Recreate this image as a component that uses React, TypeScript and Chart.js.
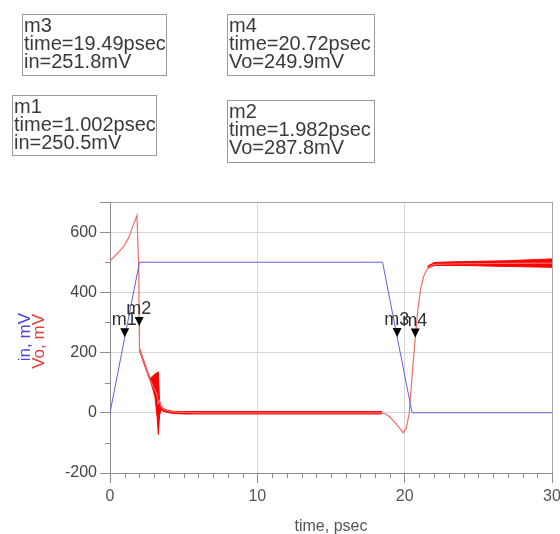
import { useEffect, useRef } from "react";
import { Chart, registerables } from "chart.js";

Chart.register(...registerables);

const FONT = "'Liberation Sans', Arial, Helvetica, sans-serif";

// Input stimulus "in" (mV) against time (psec)
const inTime = [0, 1.002, 2, 18.5, 19.49, 20.5, 30];
const inValue = [0, 250.5, 500, 500, 251.8, 0, 0];

// Output "Vo" (mV) against time (psec), centre of the trace
const voTime = [
  0, 0.2, 0.4, 0.7, 1.0, 1.3, 1.55, 1.83, 1.95, 1.982, 2.0, 2.3, 2.6, 2.75, 3.0, 3.2, 3.26, 3.35, 3.5,
  3.7, 4.0, 4.5, 6, 10, 14, 18.4, 18.7, 19.0, 19.3, 19.6, 19.9, 20.1, 20.3, 20.5, 20.72, 20.9, 21.1,
  21.3, 21.6, 22, 24, 27, 30,
];
const voValue = [
  505, 514, 524, 540, 557, 585, 620, 655, 480, 287.8, 210, 168, 124, 106, 80, 60, 30, 40, 18, 10, 5,
  2, 0, 0, 0, 0, -4, -14, -30, -48, -66, -52, -5, 120, 249.9, 345, 415, 455, 483, 493, 495, 496, 497,
];

// Vo ringing envelope after the rising edge and along the low level
const ringTime = [2.0, 2.3, 2.6, 2.72, 2.9, 3.05, 3.2, 3.28, 3.36, 3.45, 3.6, 3.9, 4.3, 5, 10, 15, 18.45];
const ringHigh = [214, 172, 130, 114, 122, 128, 133, 136, 40, 24, 15, 8, 5, 4, 4, 4, 4];
const ringLow = [206, 164, 122, 108, 80, 53, -15, -72, -10, 10, 6, 1, -2, -4, -4, -4, -4];

// Vo ringing envelope along the high level
const settleTime = [21.55, 22, 23, 24, 25, 26, 27, 28, 29, 30];
const settleHigh = [487, 499, 501, 502, 503, 504, 505, 507, 509, 511];
const settleLow = [479, 489, 489, 489, 488, 487, 486, 485, 484, 483];

// Markers
const markerNames = ["m1", "m2", "m3", "m4"];
const markerTrace = ["in", "Vo", "in", "Vo"];
const markerTime = [1.002, 1.982, 19.49, 20.72];
const markerValue = [250.5, 287.8, 251.8, 249.9];

// Axis tick labels
const xTickLabels = [0, 10, 20, 30];
const yTickLabels = [-200, 0, 200, 400, 600];

// Readout box placement (left, top, width, height) for m1..m4
const readoutBoxes = [
  [12, 95, 144, 60],
  [227, 100, 147, 62],
  [22, 14, 144, 61],
  [227, 14, 147, 61],
];

const BLUE = "rgb(96,96,226)";
const RED = "rgb(255,0,0)";
const RED_THIN = "rgb(240,110,105)";
const GRID = "#d6d6d6";
const FRAME = "#a4a4a4";
const AXIS = "#8c8c8c";
const TRANSPARENT = "rgba(0,0,0,0)";

const pts = (xs: number[], ys: number[]) => xs.map((x, i) => ({ x, y: ys[i] }));

const overlay = {
  id: "overlay",
  afterDraw(chart: any) {
    const { ctx, chartArea, scales } = chart;
    const xs = scales.x;
    const ys = scales.y;
    ctx.save();

    // minor ticks
    ctx.strokeStyle = AXIS;
    ctx.lineWidth = 1;
    ctx.beginPath();
    for (let t = 1; t < 30; t++) {
      if (t % 10 === 0) continue;
      const px = Math.round(xs.getPixelForValue(t)) + 0.5;
      ctx.moveTo(px, chartArea.bottom);
      ctx.lineTo(px, chartArea.bottom + 5);
    }
    for (let v = -100; v < 700; v += 200) {
      const py = Math.round(ys.getPixelForValue(v)) + 0.5;
      ctx.moveTo(chartArea.left - 5, py);
      ctx.lineTo(chartArea.left, py);
    }
    ctx.stroke();

    // markers
    for (let i = 0; i < markerNames.length; i++) {
      const px = xs.getPixelForValue(markerTime[i]);
      const py = ys.getPixelForValue(markerValue[i]);
      ctx.fillStyle = "#000";
      ctx.beginPath();
      ctx.moveTo(px - 4.5, py - 9);
      ctx.lineTo(px + 4.5, py - 9);
      ctx.lineTo(px, py);
      ctx.closePath();
      ctx.fill();
      ctx.fillStyle = "#333";
      ctx.font = `18px ${FONT}`;
      ctx.textAlign = "left";
      ctx.textBaseline = "alphabetic";
      ctx.fillText(markerNames[i], px - 13, py - 12);
    }

    // readout boxes
    for (let i = 0; i < markerNames.length; i++) {
      const [bx, by, bw, bh] = readoutBoxes[i];
      ctx.strokeStyle = "#999";
      ctx.lineWidth = 1;
      ctx.strokeRect(bx + 0.5, by + 0.5, bw, bh);
      ctx.fillStyle = "#3a3a3a";
      ctx.font = `20px ${FONT}`;
      ctx.textAlign = "left";
      ctx.textBaseline = "alphabetic";
      ctx.fillText(markerNames[i], bx + 2, by + 17.5);
      ctx.fillText(`time=${markerTime[i]}psec`, bx + 2, by + 36);
      ctx.fillText(`${markerTrace[i]}=${markerValue[i]}mV`, bx + 2, by + 54);
    }

    // axis titles
    ctx.font = `16px ${FONT}`;
    ctx.fillStyle = "#555";
    ctx.textAlign = "center";
    ctx.textBaseline = "middle";
    ctx.fillText("time, psec", (chartArea.left + chartArea.right) / 2, 527);

    ctx.font = `17px ${FONT}`;
    ctx.textAlign = "right";
    ctx.textBaseline = "middle";
    ctx.save();
    ctx.translate(25, 313);
    ctx.rotate(-Math.PI / 2);
    ctx.fillStyle = "rgb(70,70,220)";
    ctx.fillText("in, mV", 0, 0);
    ctx.restore();
    ctx.save();
    ctx.translate(39, 314);
    ctx.rotate(-Math.PI / 2);
    ctx.fillStyle = "rgb(230,60,60)";
    ctx.fillText("Vo, mV", 0, 0);
    ctx.restore();

    ctx.restore();
  },
};

export default function App() {
  const canvasRef = useRef<HTMLCanvasElement | null>(null);

  useEffect(() => {
    const canvas = canvasRef.current;
    if (!canvas) return;
    const chart = new Chart(canvas, {
      type: "line",
      data: {
        datasets: [
          {
            label: "in",
            data: pts(inTime, inValue),
            borderColor: BLUE,
            borderWidth: 1,
            pointRadius: 0,
            tension: 0,
            fill: false,
          },
          {
            label: "Vo",
            data: pts(voTime, voValue),
            borderColor: RED_THIN,
            borderWidth: 1.2,
            pointRadius: 0,
            tension: 0,
            fill: false,
          },
          {
            label: "Vo ringing max",
            data: pts(ringTime, ringHigh),
            borderColor: RED,
            backgroundColor: RED,
            borderWidth: 1,
            pointRadius: 0,
            tension: 0,
            fill: "+1",
          },
          {
            label: "Vo ringing min",
            data: pts(ringTime, ringLow),
            borderColor: RED,
            borderWidth: 1,
            pointRadius: 0,
            tension: 0,
            fill: false,
          },
          {
            label: "Vo settle max",
            data: pts(settleTime, settleHigh),
            borderColor: RED,
            backgroundColor: RED,
            borderWidth: 1,
            pointRadius: 0,
            tension: 0,
            fill: "+1",
          },
          {
            label: "Vo settle min",
            data: pts(settleTime, settleLow),
            borderColor: RED,
            borderWidth: 1,
            pointRadius: 0,
            tension: 0,
            fill: false,
          },
        ],
      },
      options: {
        animation: false,
        responsive: false,
        events: [],
        layout: { padding: { top: 202, right: 8, left: 0, bottom: 0 } },
        plugins: { legend: { display: false }, tooltip: { enabled: false } },
        scales: {
          x: {
            type: "linear",
            min: 0,
            max: 30,
            afterBuildTicks: (s: any) => {
              const t = [];
              for (let v = 0; v <= 30; v += 10) t.push({ value: v });
              s.ticks = t;
            },
            afterFit: (s: any) => {
              s.height = 61;
              s.paddingLeft = 0;
              s.paddingRight = 0;
            },
            ticks: {
              autoSkip: false,
              maxRotation: 0,
              padding: 4,
              color: "#555",
              font: { family: FONT, size: 16 },
              callback: (v: any) => (xTickLabels.includes(Number(v)) ? String(v) : ""),
            },
            grid: {
              color: (c: any) => {
                const v = c.tick?.value;
                if (v === 30) return FRAME;
                if (v === 10 || v === 20) return GRID;
                return TRANSPARENT;
              },
              tickColor: AXIS,
              tickLength: 10,
            },
            border: { color: AXIS, width: 1 },
          },
          y: {
            type: "linear",
            min: -200,
            max: 700,
            afterBuildTicks: (s: any) => {
              const t = [];
              for (let v = -200; v <= 700; v += 200) t.push({ value: v });
              t.push({ value: 700 });
              s.ticks = t;
            },
            afterFit: (s: any) => {
              s.width = 110;
              s.paddingTop = 0;
              s.paddingBottom = 0;
            },
            ticks: {
              autoSkip: false,
              padding: 3,
              color: "#444",
              font: { family: FONT, size: 16 },
              callback: (v: any) => (yTickLabels.includes(Number(v)) ? String(v) : ""),
            },
            grid: {
              color: (c: any) => {
                const v = c.tick?.value;
                if (v === 700) return FRAME;
                if (v === 600 || v === 400 || v === 200 || v === 0) return GRID;
                return TRANSPARENT;
              },
              tickColor: AXIS,
              tickLength: 10,
            },
            border: { color: AXIS, width: 1 },
          },
        },
      },
      plugins: [overlay],
    });
    return () => chart.destroy();
  }, []);

  return (
    <div style={{ position: "absolute", left: 0, top: 0, width: 560, height: 534, background: "#fff" }}>
      <canvas ref={canvasRef} width={560} height={534} style={{ width: 560, height: 534, display: "block" }} />
    </div>
  );
}
